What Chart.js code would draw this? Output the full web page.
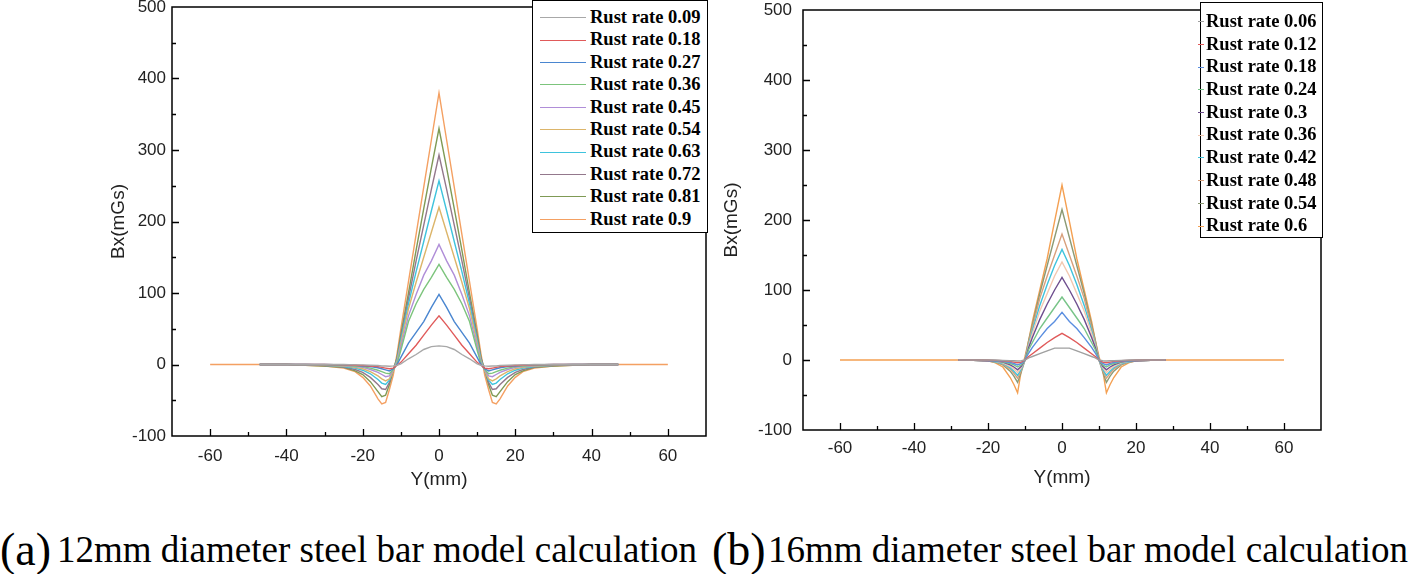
<!DOCTYPE html>
<html>
<head>
<meta charset="utf-8">
<script src="https://cdn.jsdelivr.net/npm/chart.js@4.4.0/dist/chart.umd.min.js"></script>
<style>
    body { margin: 0; width: 1417px; height: 574px; position: relative; background: #fff; overflow: hidden; }
    .box { position: absolute; }
    .legend { position: absolute; background: #fff; border: 1.5px solid #000; box-sizing: border-box;
              font: bold 18.5px "Liberation Serif", "Times New Roman", serif; color: #000; }
    .legend .row { position: relative; white-space: nowrap; }
    .legend .swatch { position: absolute; top: 50%; height: 0; border-top: 1.5px solid; }
    .cap { position: absolute; font-family: "Liberation Serif", "Times New Roman", serif; color: #000; white-space: nowrap; }
</style>
</head>
<body>
<div class="box" style="left:103px; top:0; width:617px; height:495px"><canvas id="chartA" width="617" height="495"></canvas></div>
<div class="box" style="left:716px; top:0; width:615px; height:493px"><canvas id="chartB" width="615" height="493"></canvas></div>
<div id="legendA" class="legend" style="left:532px; top:0; width:176px; height:233px; padding-top:5px"></div>
<div id="legendB" class="legend" style="left:1200px; top:2px; width:123px; height:236px; padding-top:7px"></div>

<div class="cap" style="left:0; top:527px; font-size:46px; line-height:46px">(a)</div>
<div class="cap" style="left:57px; top:531px; font-size:37px; line-height:37px">12mm diameter steel bar model calculation</div>
<div class="cap" style="left:712px; top:527px; font-size:46px; line-height:46px">(b)</div>
<div class="cap" style="left:768px; top:531px; font-size:37px; line-height:37px">16mm diameter steel bar model calculation</div>

<script>
// ---- (a) 12mm bar ----
const xA = [-60,-47,-40,-35,-30,-25,-22,-20,-18,-16,-15,-14,-13,-12,-11,-10,-8,-6,-4,-2,0,
            2,4,6,8,10,11,12,13,14,15,16,18,20,22,25,30,35,40,47,60];
const labelsA = ['Rust rate 0.09','Rust rate 0.18','Rust rate 0.27','Rust rate 0.36','Rust rate 0.45',
                 'Rust rate 0.54','Rust rate 0.63','Rust rate 0.72','Rust rate 0.81','Rust rate 0.9'];
const a009 = [null,0,0,0,0,0,-0.5,-0.5,-1,-1.5,-2,-2,-2.5,-2,-1,1,8,14,21,25,26,
              25,21,14,8,1,-1,-2,-2.5,-2,-2,-1.5,-1,-0.5,-0.5,0,0,0,0,0,null];
const a018 = [null,0,0,0,0,-0.5,-1,-1.5,-2,-3,-4,-5,-6,-5,-1,3,15,27,41,55,68,
              55,41,27,15,3,-1,-5,-6,-5,-4,-3,-2,-1.5,-1,-0.5,0,0,0,0,null];
const a027 = [null,0,0,0,0,-0.5,-1,-2,-3,-4.5,-6,-7.5,-9,-6,0,10,30,45,60,80,98,
              80,60,45,30,10,0,-6,-9,-7.5,-6,-4.5,-3,-2,-1,-0.5,0,0,0,0,null];
const a036 = [null,0,0,0,-0.5,-1,-2,-3,-5,-8,-10,-12,-13,-7,1,20,60,85,105,122,140,
              122,105,85,60,20,1,-7,-13,-12,-10,-8,-5,-3,-2,-1,-0.5,0,0,0,null];
const a045 = [null,0,0,0,-0.5,-1.5,-3,-4,-7,-11,-14,-17,-16,-8,2,25,68,98,125,145,168,
              145,125,98,68,25,2,-8,-16,-17,-14,-11,-7,-4,-3,-1.5,-0.5,0,0,0,null];
const a054 = [null,0,0,-0.5,-1,-2,-4,-6,-10,-16,-20,-23,-20,-9,4,30,78,115,150,185,220,
              185,150,115,78,30,4,-9,-20,-23,-20,-16,-10,-6,-4,-2,-1,-0.5,0,0,null];
const a063 = [null,0,0,-0.5,-1,-3,-5,-8,-13,-21,-26,-28,-22,-8,6,34,85,130,172,215,257,
              215,172,130,85,34,6,-8,-22,-28,-26,-21,-13,-8,-5,-3,-1,-0.5,0,0,null];
const a072 = [null,0,0,-0.5,-1.5,-3.5,-7,-11,-18,-28,-34,-35,-25,-8,8,38,92,145,195,245,293,
              245,195,145,92,38,8,-8,-25,-35,-34,-28,-18,-11,-7,-3.5,-1.5,-0.5,0,0,null];
const a081 = [null,0,0,-1,-2,-4,-9,-14,-24,-38,-45,-43,-28,-8,10,42,100,160,218,275,330,
              275,218,160,100,42,10,-8,-28,-43,-45,-38,-24,-14,-9,-4,-2,-1,0,0,null];
const a090 = [0,0,0,-1,-2,-5,-10,-18,-30,-48,-55,-53,-35,-15,15,50,116,182,248,314,380,
              314,248,182,116,50,15,-15,-35,-53,-55,-48,-30,-18,-10,-5,-2,-1,0,0,0];
const colorsA = ['#a8a8a8','#e05a5a','#4a86d0','#7cc47c','#b08ed8',
                 '#dcb56a','#3ec3dd','#93788c','#7f9a55','#f4a062'];

// ---- (b) 16mm bar ----
const xB = [-60,-28,-24,-20,-18,-16,-14,-13,-12,-11,-10,-9,-8,-6,-4,-2,0,
            2,4,6,8,9,10,11,12,13,14,16,18,20,24,28,60];
const labelsB = ['Rust rate 0.06','Rust rate 0.12','Rust rate 0.18','Rust rate 0.24','Rust rate 0.3',
                 'Rust rate 0.36','Rust rate 0.42','Rust rate 0.48','Rust rate 0.54','Rust rate 0.6'];
const b006 = [null,0,0,0,0,-0.5,-1,-1,-1.5,-1,0,3,5,9,13,17,17,
              17,13,9,5,3,0,-1,-1.5,-1,-1,-0.5,0,0,0,0,null];
const b012 = [null,0,0,0,-0.5,-1,-2,-3,-4,-3,0,5,9,17,25,32,38,
              32,25,17,9,5,0,-3,-4,-3,-2,-1,-0.5,0,0,0,null];
const b018 = [null,0,0,-0.5,-1,-2,-3.5,-5,-7,-5,0,10,18,32,45,55,68,
              55,45,32,18,10,0,-5,-7,-5,-3.5,-2,-1,-0.5,0,0,null];
const b024 = [null,0,0,-0.5,-1,-2.5,-5,-7,-10,-7,0,15,25,45,60,75,90,
              75,60,45,25,15,0,-7,-10,-7,-5,-2.5,-1,-0.5,0,0,null];
const b030 = [null,0,-0.5,-1,-1.5,-3,-7,-10,-14,-9,0,18,32,58,80,100,118,
              100,80,58,32,18,0,-9,-14,-10,-7,-3,-1.5,-1,-0.5,0,null];
const b036 = [null,0,-0.5,-1,-2,-4,-9,-13,-18,-11,0,20,38,70,95,120,140,
              120,95,70,38,20,0,-11,-18,-13,-9,-4,-2,-1,-0.5,0,null];
const b042 = [null,0,-0.5,-1,-2.5,-5,-11,-16,-22,-13,0,22,42,78,108,135,158,
              135,108,78,42,22,0,-13,-22,-16,-11,-5,-2.5,-1,-0.5,0,null];
const b048 = [null,0,-0.5,-1.5,-3,-6,-13,-19,-26,-15,0,25,46,88,120,150,180,
              150,120,88,46,25,0,-15,-26,-19,-13,-6,-3,-1.5,-0.5,0,null];
const b054 = [null,0,-0.5,-1.5,-3,-7,-16,-23,-32,-17,0,28,50,95,135,175,215,
              175,135,95,50,28,0,-17,-32,-23,-16,-7,-3,-1.5,-0.5,0,null];
const b060 = [0,0,0,-1,-4,-10,-25,-35,-47,-15,5,28,55,100,145,198,250,
              198,145,100,55,28,5,-15,-47,-35,-25,-10,-4,-1,0,0,0];
const colorsB = ['#a0a0a0','#e05a5a','#5a8ee0','#78c488','#6e4e8e',
                 '#f2c8b0','#3ec3dd','#d8a07c','#8c9a74','#f4a052'];

// рамка и внутренние засечки
const frameTicks = {
    id: 'frameTicks',
    afterDraw(chart) {
        const { ctx, chartArea: a, scales } = chart;
        ctx.save();
        ctx.strokeStyle = '#000';
        ctx.lineWidth = 1.5;
        ctx.strokeRect(a.left, a.top, a.right - a.left, a.bottom - a.top);
        ctx.lineWidth = 1.3;
        ctx.beginPath();
        scales.x.ticks.forEach(t => {
            if (t.value <= scales.x.min || t.value >= scales.x.max) return;
            const px = Math.round(scales.x.getPixelForValue(t.value)) + 0.5;
            const len = t.value % 20 === 0 ? 7 : 4;
            ctx.moveTo(px, a.bottom);
            ctx.lineTo(px, a.bottom - len);
        });
        scales.y.ticks.forEach(t => {
            if (t.value <= scales.y.min || t.value >= scales.y.max) return;
            const py = Math.round(scales.y.getPixelForValue(t.value)) + 0.5;
            const len = t.value % 100 === 0 ? 7 : 4;
            ctx.moveTo(a.left, py);
            ctx.lineTo(a.left + len, py);
        });
        ctx.stroke();
        ctx.restore();
    }
};

Chart.defaults.font.family = '"Liberation Sans", Arial, sans-serif';
Chart.defaults.color = '#222';

function drawChart(id, xs, series, labels, colors, o) {
    const datasets = series.map((vals, i) => ({
        label: labels[i],
        data: xs.map((x, j) => ({ x: x, y: vals[j] })),
        borderColor: colors[i],
        backgroundColor: colors[i],
        borderWidth: 1.4,
        pointRadius: 0,
        tension: 0,
        fill: false,
        spanGaps: false
    }));
    return new Chart(document.getElementById(id), {
        type: 'line',
        plugins: [frameTicks],
        data: { datasets: datasets },
        options: {
            responsive: false,
            animation: false,
            devicePixelRatio: 1,
            layout: { padding: { top: o.top, right: o.right, left: 0, bottom: 0 } },
            plugins: { legend: { display: false }, tooltip: { enabled: false } },
            scales: {
                x: {
                    type: 'linear', min: -70, max: 70,
                    grid: { display: false, drawTicks: false },
                    border: { display: false },
                    afterFit: s => { s.height = o.xh; s.paddingLeft = 0; s.paddingRight = 0; },
                    ticks: {
                        stepSize: 10, autoSkip: false, maxRotation: 0, padding: o.xpad,
                        font: { size: 17 },
                        callback: v => (v % 20 === 0 && Math.abs(v) < 70) ? String(v) : ''
                    },
                    title: { display: true, text: 'Y(mm)', font: { size: 19 }, padding: { top: 2, bottom: 4 } }
                },
                y: {
                    min: -100, max: 500,
                    grid: { display: false, drawTicks: false },
                    border: { display: false },
                    afterFit: s => { s.width = o.yw; s.paddingTop = 0; s.paddingBottom = 0; },
                    ticks: {
                        stepSize: 50, autoSkip: false, padding: o.ypad,
                        font: { size: 17 },
                        callback: v => v % 100 === 0 ? String(v) : ''
                    },
                    title: { display: true, text: 'Bx(mGs)', font: { size: 19 }, padding: { top: 4, bottom: 2 } }
                }
            }
        }
    });
}

function buildLegend(el, labels, colors, rowH, swLeft, swWidth, textLeft) {
    labels.forEach((txt, i) => {
        const row = document.createElement('div');
        row.className = 'row';
        row.style.height = rowH + 'px';
        row.style.lineHeight = rowH + 'px';
        row.style.paddingLeft = textLeft + 'px';
        const sw = document.createElement('span');
        sw.className = 'swatch';
        sw.style.left = swLeft + 'px';
        sw.style.width = swWidth + 'px';
        sw.style.borderTopColor = colors[i];
        row.appendChild(sw);
        row.appendChild(document.createTextNode(txt));
        el.appendChild(row);
    });
}

drawChart('chartA', xA, [a009,a018,a027,a036,a045,a054,a063,a072,a081,a090], labelsA, colorsA,
    { top: 7, right: 14, xh: 59, yw: 69, xpad: 10, ypad: 6 });
drawChart('chartB', xB, [b006,b012,b018,b024,b030,b036,b042,b048,b054,b060], labelsB, colorsB,
    { top: 10, right: 10, xh: 63, yw: 87, xpad: 8, ypad: 11 });

buildLegend(document.getElementById('legendA'), labelsA, colorsA, 22.4, 7, 46, 57);
buildLegend(document.getElementById('legendB'), labelsB, colorsB, 22.7, -3, 6, 5);
</script>
</body>
</html>
